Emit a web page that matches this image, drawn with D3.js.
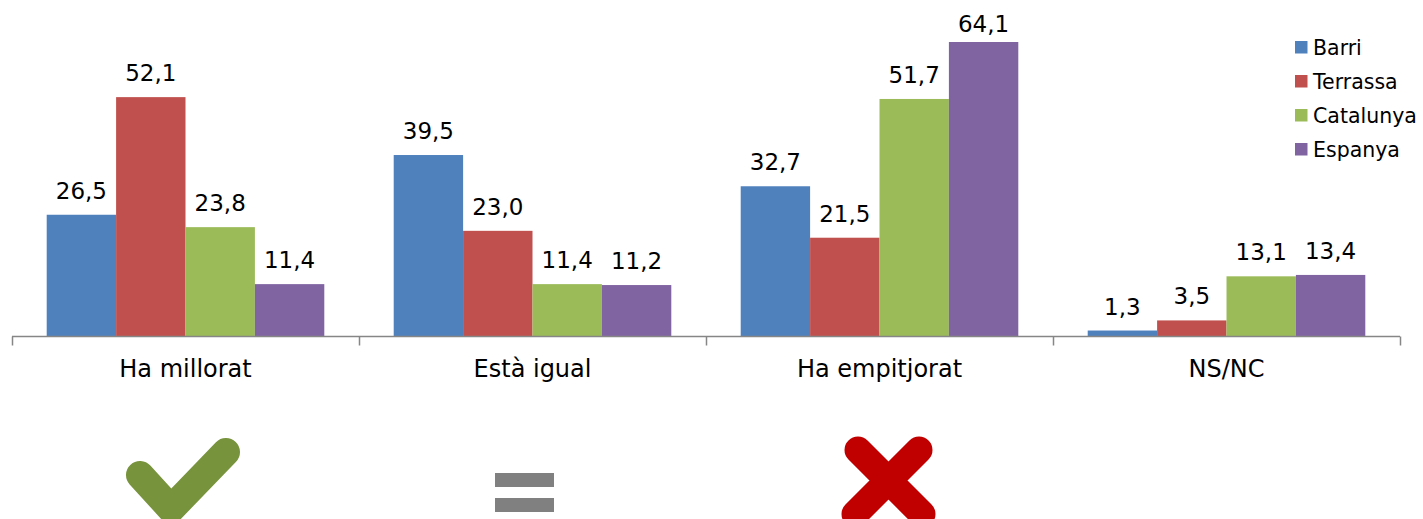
<!DOCTYPE html>
<html><head><meta charset="utf-8">
<script src="https://cdn.jsdelivr.net/npm/d3@7"></script>
<style>body{margin:0;background:#fff}svg{display:block}text{font-family:"DejaVu Sans",Verdana,sans-serif}</style>
</head><body><svg id="c" width="1423" height="519"></svg>
<script>
const categories = ["Ha millorat", "Està igual", "Ha empitjorat", "NS/NC"];
const series = ["Barri", "Terrassa", "Catalunya", "Espanya"];
const barri = [26.5, 39.5, 32.7, 1.3];
const terrassa = [52.1, 23.0, 21.5, 3.5];
const catalunya = [23.8, 11.4, 51.7, 13.1];
const espanya = [11.4, 11.2, 64.1, 13.4];
const colors = ["#4F81BD", "#C0504D", "#9BBB59", "#8064A2"];
const values = [barri, terrassa, catalunya, espanya];

const svg = d3.select("#c");
const x = d3.scaleBand().domain(categories).range([12, 1400]);
const x1 = d3.scaleBand().domain(series).range([x.bandwidth()*0.1, x.bandwidth()*0.9]);
const y = d3.scaleLinear().domain([0, 64.1]).range([336.5, 42]);
const loc = d3.formatLocale({decimal: ",", thousands: ".", grouping: [3], currency: ["", "€"]});
const fmt = loc.format(".1f");

const g = svg.append("g");
series.forEach((s, si) => {
  categories.forEach((c, ci) => {
    const v = values[si][ci];
    g.append("rect").attr("x", x(c) + x1(s)).attr("y", y(v))
      .attr("width", x1.bandwidth()).attr("height", y(0) - y(v)).attr("fill", colors[si]);
    g.append("text").attr("x", x(c) + x1(s) + x1.bandwidth()/2).attr("y", Math.max(y(v) - 16, 32))
      .attr("text-anchor", "middle").attr("font-size", 23).attr("fill", "#000").text(fmt(v));
  });
});

// axis
const ax = svg.append("g").attr("transform", "translate(0,336.5)");
ax.append("line").attr("x1", 12).attr("x2", 1400).attr("stroke", "#868686").attr("stroke-width", 1.5);
const ticks = categories.map(c => x(c)).concat([x.range()[1]]);
ticks.forEach(t => ax.append("line").attr("x1", Math.round(t)+0.5).attr("x2", Math.round(t)+0.5).attr("y1", 0).attr("y2", 9).attr("stroke", "#868686").attr("stroke-width", 1.5));
categories.forEach(c => ax.append("text").attr("x", x(c) + x.bandwidth()/2).attr("y", 40.5)
  .attr("text-anchor", "middle").attr("font-size", 24).attr("fill", "#000").text(c));

// legend
const lg = svg.append("g");
series.forEach((s, i) => {
  const yy = 47.5 + i*34;
  lg.append("rect").attr("x", 1295).attr("y", yy - 6.5).attr("width", 12.5).attr("height", 12.5).attr("fill", colors[i]);
  lg.append("text").attr("x", 1313).attr("y", yy + 7.5).attr("font-size", 20.5).attr("fill", "#000").text(s);
});

// icons
const ic = svg.append("g");
ic.append("path").attr("d", "M140,475 L171,509 L226,452").attr("fill", "none").attr("stroke", "#77933C")
  .attr("stroke-width", 28).attr("stroke-linecap", "round").attr("stroke-linejoin", "miter");
ic.append("rect").attr("x", 495).attr("y", 473).attr("width", 59).attr("height", 14).attr("fill", "#808080");
ic.append("rect").attr("x", 495).attr("y", 498).attr("width", 59).attr("height", 14).attr("fill", "#808080");
ic.append("path").attr("d", "M858,450 L922,514 M919,450 L855,514").attr("fill", "none").attr("stroke", "#C00000")
  .attr("stroke-width", 27).attr("stroke-linecap", "round");
</script></body></html>
